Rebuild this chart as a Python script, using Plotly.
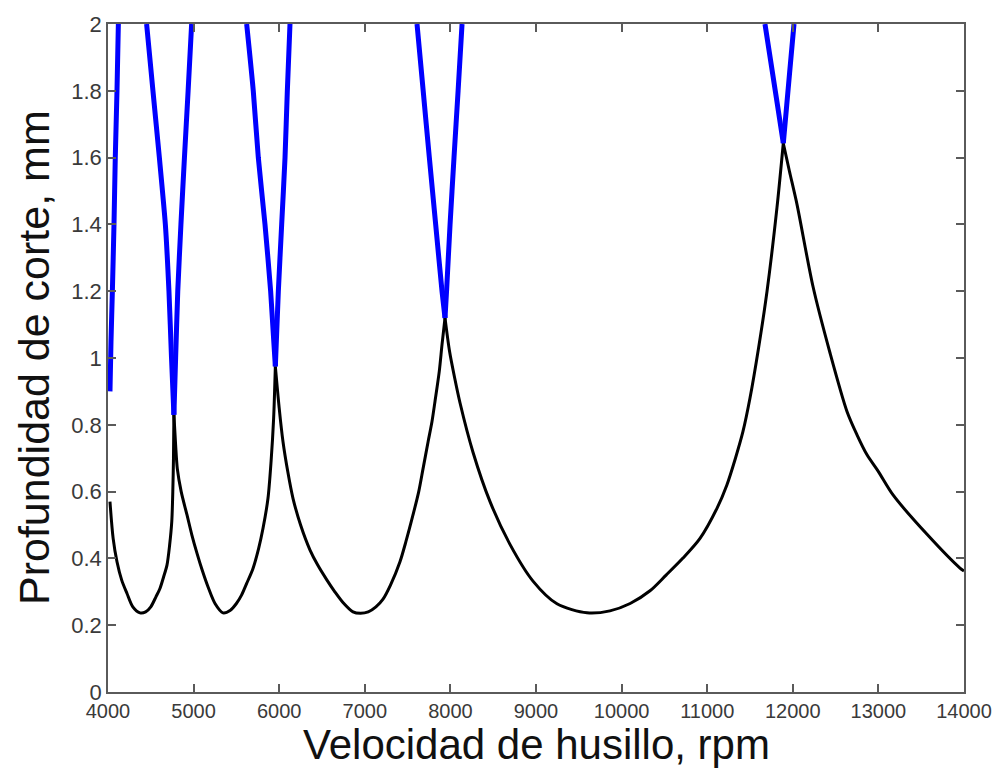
import plotly.graph_objects as go

# ---- data (rpm, mm) ----
# stable envelope (black), lobe by lobe
lobeA_x = [4023, 4060, 4105, 4160, 4222, 4290, 4374, 4440, 4500, 4560, 4607, 4650, 4689, 4720, 4745, 4757, 4765, 4770]
lobeA_y = [0.57, 0.46, 0.39, 0.335, 0.295, 0.255, 0.237, 0.24, 0.255, 0.285, 0.31, 0.345, 0.38, 0.44, 0.51, 0.6, 0.7, 0.83]
lobeB_x = [4770, 4790, 4810, 4855, 4923, 4980, 5040, 5100, 5168, 5250, 5343, 5430, 5500, 5560, 5620, 5694, 5760, 5811, 5869, 5905, 5935, 5955]
lobeB_y = [0.83, 0.74, 0.668, 0.6, 0.53, 0.47, 0.415, 0.365, 0.315, 0.265, 0.237, 0.245, 0.265, 0.29, 0.325, 0.37, 0.43, 0.49, 0.58, 0.69, 0.82, 0.975]
lobeC_x = [5955, 6000, 6044, 6100, 6161, 6250, 6360, 6450, 6558, 6650, 6745, 6862, 6950, 7040, 7130, 7213, 7300, 7411, 7480, 7563, 7630, 7680, 7740, 7785, 7820, 7870, 7902, 7937]
lobeC_y = [0.975, 0.85, 0.75, 0.66, 0.58, 0.5, 0.425, 0.38, 0.335, 0.3, 0.268, 0.24, 0.236, 0.24, 0.255, 0.278, 0.32, 0.39, 0.45, 0.53, 0.6, 0.668, 0.75, 0.81, 0.87, 0.96, 1.04, 1.12]
lobeD_x = [7937, 7990, 8050, 8112, 8264, 8463, 8696, 8965, 9245, 9596, 9864, 10100, 10332, 10520, 10717, 10916, 11114, 11230, 11330, 11418, 11500, 11600, 11699, 11815, 11889]
lobeD_y = [1.12, 1.02, 0.94, 0.866, 0.718, 0.57, 0.442, 0.332, 0.264, 0.237, 0.243, 0.265, 0.303, 0.35, 0.401, 0.46, 0.55, 0.62, 0.7, 0.78, 0.88, 1.03, 1.2, 1.45, 1.643]
lobeE_x = [11889, 11960, 12049, 12236, 12435, 12633, 12750, 12867, 13000, 13171, 13568, 13953, 14000]
lobeE_y = [1.643, 1.56, 1.46, 1.214, 1.015, 0.84, 0.77, 0.71, 0.66, 0.59, 0.472, 0.371, 0.362]

# unstable continuations above the intersections (blue)
arm0_x = [4023, 4035, 4051, 4070, 4085, 4105, 4121]
arm0_y = [0.9, 1.05, 1.2, 1.4, 1.6, 1.8, 2.0]
v1L_x = [4770, 4742, 4712, 4670, 4600, 4525, 4451]
v1L_y = [0.83, 1.0, 1.2, 1.4, 1.6, 1.8, 2.0]
v1R_x = [4770, 4790, 4815, 4852, 4893, 4936, 4977]
v1R_y = [0.83, 1.0, 1.2, 1.4, 1.6, 1.8, 2.0]
v2L_x = [5955, 5900, 5834, 5756, 5697, 5620]
v2L_y = [0.975, 1.2, 1.4, 1.6, 1.8, 2.0]
v2R_x = [5955, 5990, 6029, 6068, 6095, 6126]
v2R_y = [0.975, 1.2, 1.4, 1.6, 1.8, 2.0]
v3L_x = [7937, 7902, 7828, 7754, 7682, 7610]
v3L_y = [1.12, 1.2, 1.4, 1.6, 1.8, 2.0]
v3R_x = [7937, 7955, 7996, 8042, 8090, 8136]
v3R_y = [1.12, 1.2, 1.4, 1.6, 1.8, 2.0]
v4L_x = [11889, 11821, 11762, 11675]
v4L_y = [1.643, 1.757, 1.855, 2.0]
v4R_x = [11889, 11929, 11963, 12014]
v4R_y = [1.643, 1.757, 1.855, 2.0]

x_ticks = [4000, 5000, 6000, 7000, 8000, 9000, 10000, 11000, 12000, 13000, 14000]
y_ticks = [0, 0.2, 0.4, 0.6, 0.8, 1.0, 1.2, 1.4, 1.6, 1.8, 2.0]
y_tick_text = ["0", "0.2", "0.4", "0.6", "0.8", "1", "1.2", "1.4", "1.6", "1.8", "2"]
x_title = "Velocidad de husillo, rpm"
y_title = "Profundidad de corte, mm"

fig = go.Figure()
black = [(lobeA_x, lobeA_y), (lobeB_x, lobeB_y), (lobeC_x, lobeC_y), (lobeD_x, lobeD_y), (lobeE_x, lobeE_y)]
blue = [(arm0_x, arm0_y), (v1L_x, v1L_y), (v1R_x, v1R_y), (v2L_x, v2L_y), (v2R_x, v2R_y),
        (v3L_x, v3L_y), (v3R_x, v3R_y), (v4L_x, v4L_y), (v4R_x, v4R_y)]
for xs, ys in black:
    fig.add_trace(go.Scatter(x=xs, y=ys, mode="lines",
                             line=dict(color="#000000", width=3, shape="spline", smoothing=0.8),
                             showlegend=False, hoverinfo="skip"))
for xs, ys in blue:
    fig.add_trace(go.Scatter(x=xs, y=ys, mode="lines",
                             line=dict(color="#0000FF", width=5, shape="spline", smoothing=0.6),
                             showlegend=False, hoverinfo="skip"))

axis_common = dict(showgrid=False, zeroline=False, showline=True, linecolor="#5a5a5a", linewidth=1.5,
                   mirror="ticks", ticks="inside", ticklen=8, tickwidth=1.5, tickcolor="#5a5a5a")
fig.update_xaxes(range=[4000, 14000], tickvals=x_ticks, ticktext=[str(v) for v in x_ticks],
                 tickfont=dict(family="Liberation Sans, Arial, sans-serif", size=20, color="#3a3a3a"),
                 **axis_common)
fig.update_yaxes(range=[0, 2], tickvals=y_ticks, ticktext=y_tick_text,
                 tickfont=dict(family="Liberation Sans, Arial, sans-serif", size=22, color="#3a3a3a"),
                 **axis_common)

fig.add_annotation(text=x_title, xref="paper", yref="paper", x=0.5, y=(692 - 745) / 674,
                   xanchor="center", yanchor="middle", showarrow=False,
                   font=dict(family="Liberation Sans, Arial, sans-serif", size=42, color="#111111"))
fig.add_annotation(text=y_title, xref="paper", yref="paper", x=(34 - 108) / 856, y=0.5,
                   xanchor="center", yanchor="middle", textangle=-90, showarrow=False,
                   font=dict(family="Liberation Sans, Arial, sans-serif", size=43, color="#111111"))

fig.update_layout(width=1005, height=781, margin=dict(l=108, r=41, t=18, b=89),
                  paper_bgcolor="white", plot_bgcolor="white")
fig.write_html("out.html")
